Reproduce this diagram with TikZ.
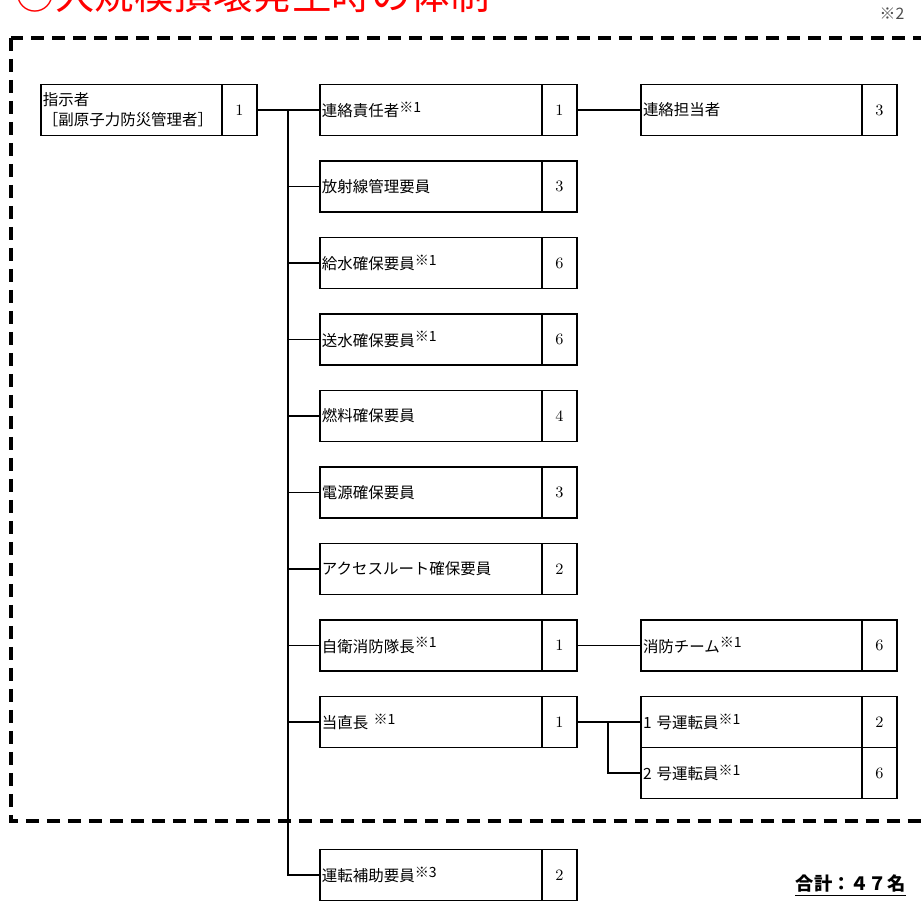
\documentclass[tikz,border=0pt]{standalone}
\usepackage{fontspec}
\newfontfamily\jp{Noto Sans CJK JP}
\newcommand\kome[1]{\raisebox{0.5ex}{\fontsize{8}{9}\selectfont ※#1}}

\begin{document}
\begin{tikzpicture}[x=0.02cm, y=-0.02cm, line width=0.7pt,
	namebox/.style={draw, rectangle, outer sep=0pt, inner xsep=0.04cm, inner ysep=0pt, minimum height=1.02cm, anchor=west, align=left, font=\jp\fontsize{8.8}{11.4}\selectfont},
	numbox/.style={draw, rectangle, outer sep=0pt, inner sep=0pt, minimum width=0.70cm, minimum height=1.02cm, anchor=west, font=\fontsize{9}{11}\selectfont},
	colbox/.style={namebox, text width=4.36cm},
	subbox/.style={namebox, text width=4.34cm},
	groupline/.style={dash pattern=on 0.26cm off 0.16cm, line width=1.8pt}]
				\useasboundingbox (0, 0) rectangle (921, 901);
				\clip (0, 0) rectangle (921, 901);
				\node[anchor=base west, inner sep=0pt, text=red, font=\jp\fontsize{22.5}{26}\selectfont] (title)at(15, 10) {○大規模損壊発生時の体制};
				\node[font=\jp\fontsize{9}{10}\selectfont, text=black!70] (note2)at(892, 14) {※2};
				\draw[groupline] (11, 38) rectangle (945, 821);
				% director
				\node[namebox, text width=3.54cm] (D)at(41, 110) {指示者\\［副原子力防災管理者］};
				\node[numbox] (Dn)at(D.east) {1};
				% main column
				\node[colbox] (C1)at(320, 110) {連絡責任者\kome{1}};
				\node[numbox] (C1n)at(C1.east) {1};
				\node[colbox] (C2)at(320, 186.5) {放射線管理要員};
				\node[numbox] (C2n)at(C2.east) {3};
				\node[colbox] (C3)at(320, 263) {給水確保要員\kome{1}};
				\node[numbox] (C3n)at(C3.east) {6};
				\node[colbox] (C4)at(320, 339.5) {送水確保要員\kome{1}};
				\node[numbox] (C4n)at(C4.east) {6};
				\node[colbox] (C5)at(320, 416) {燃料確保要員};
				\node[numbox] (C5n)at(C5.east) {4};
				\node[colbox] (C6)at(320, 492.5) {電源確保要員};
				\node[numbox] (C6n)at(C6.east) {3};
				\node[colbox] (C7)at(320, 569) {アクセスルート確保要員};
				\node[numbox] (C7n)at(C7.east) {2};
				\node[colbox] (C8)at(320, 645.5) {自衛消防隊長\kome{1}};
				\node[numbox] (C8n)at(C8.east) {1};
				\node[colbox] (C9)at(320, 722) {当直長 \kome{1}};
				\node[numbox] (C9n)at(C9.east) {1};
				\node[colbox] (C10)at(320, 875) {運転補助要員\kome{3}};
				\node[numbox] (C10n)at(C10.east) {2};
				% right column
				\node[subbox] (T1)at(641, 110) {連絡担当者};
				\node[numbox] (T1n)at(T1.east) {3};
				\node[subbox] (F)at(641, 645.5) {消防チーム\kome{1}};
				\node[numbox] (Fn)at(F.east) {6};
				\node[subbox] (O1)at(641, 722) {1 号運転員\kome{1}};
				\node[numbox] (O1n)at(O1.east) {2};
				\node[subbox] (O2)at(641, 773) {2 号運転員\kome{1}};
				\node[numbox] (O2n)at(O2.east) {6};
				% connectors
				\coordinate (J)at(288, 110);
				\coordinate (K)at(608, 722);
				\draw (Dn.east) -- (C1.west);
				\draw (J) |- (C2.west);
				\draw (J) |- (C3.west);
				\draw (J) |- (C4.west);
				\draw (J) |- (C5.west);
				\draw (J) |- (C6.west);
				\draw (J) |- (C7.west);
				\draw (J) |- (C8.west);
				\draw (J) |- (C9.west);
				\draw (J) |- (C10.west);
				\draw (C1n.east) -- (T1.west);
				\draw (C8n.east) -- (F.west);
				\draw (C9n.east) -- (O1.west);
				\draw (K) |- (O2.west);
				% total
				\node[anchor=base east, inner sep=0pt, font=\jp\bfseries\fontsize{10.4}{12}\selectfont] (total)at(906, 891) {合計：４７名};
				\draw[line width=0.6pt] ([yshift=-2.5pt]total.base west) -- ([yshift=-2.5pt]total.base east);
			\end{tikzpicture}
\end{document}
